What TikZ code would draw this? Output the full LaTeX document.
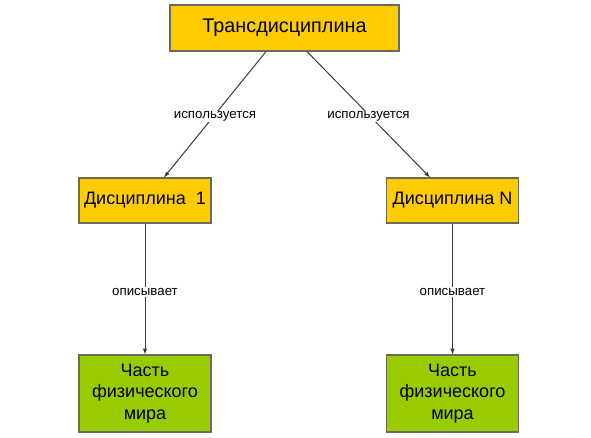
\documentclass[tikz,border=0pt]{standalone}
\usepackage{fontspec}
\setmainfont{Liberation Sans}
\usepackage{tikz}
\usetikzlibrary{arrows}
\tikzset{>=latex}
\definecolor{boxyellow}{HTML}{FFCC00}
\definecolor{boxgreen}{HTML}{99CC00}
\definecolor{boxedge}{HTML}{6E6A5A}
\definecolor{linegray}{HTML}{3A3A3A}
\tikzset{%
  topbox/.style={draw=boxedge, line width=1.1pt, fill=boxyellow, minimum width=229pt, minimum height=46pt, font=\fontsize{19.8}{22}\selectfont},
  discbox/.style={draw=boxedge, line width=1.1pt, fill=boxyellow, minimum width=132pt, minimum height=45pt, font=\fontsize{18}{20}\selectfont},
  partbox/.style={draw=boxedge, line width=1.1pt, fill=boxgreen, minimum width=132pt, minimum height=77pt, align=center, font=\fontsize{18}{21.5}\selectfont},
  link/.style={->, draw=linegray, line width=1pt},
  linklabel/.style={fill=white, inner sep=1pt, font=\fontsize{13.3}{15}\selectfont}
}
\begin{document}
\begin{tikzpicture}[x=1pt, y=-1pt]

  % fix the page size
  \useasboundingbox (0,0) rectangle (591,437);

  % set up the boxes
  \node [topbox] (trans) at (284.5,28) {Трансдисциплина};
  \node [discbox] (disc1) at (145,200.5) {Дисциплина~~1};
  \node [discbox] (discN) at (452.5,200.5) {Дисциплина N};
  \node [partbox] (part1) at (145,393.5) {Часть\\физического\\мира};
  \node [partbox] (partN) at (452.5,393.5) {Часть\\физического\\мира};

  % arrows from the top box
  \draw [link] ([xshift=-18.5pt]trans.south) -- node[linklabel, yshift=-2pt] {используется} ([xshift=19pt]disc1.north);
  \draw [link] ([xshift=22.5pt]trans.south) -- node[linklabel, yshift=-2pt] {используется} ([xshift=-22.5pt]discN.north);

  % arrows down to the green boxes
  \draw [link] (disc1) -- node[linklabel, yshift=-3pt] {описывает} (part1);
  \draw [link] (discN) -- node[linklabel, yshift=-3pt] {описывает} (partN);

\end{tikzpicture}
\end{document}
